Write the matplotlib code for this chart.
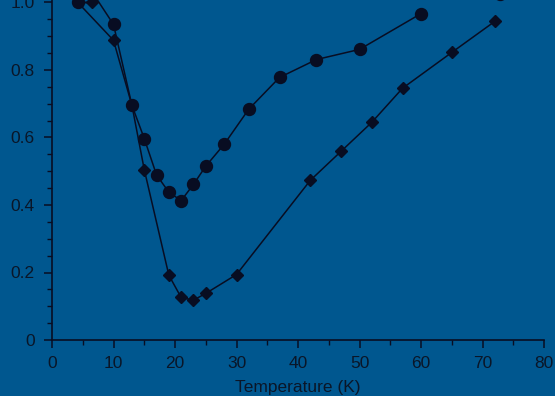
import matplotlib
matplotlib.use("Agg")
import matplotlib.pyplot as plt
from matplotlib.ticker import MultipleLocator

# circle series (point at 6.5 and 7.4 carry no marker)
t_circ = [4.2, 6.5, 7.4, 10.0, 13.0, 15.0, 17.0, 19.0, 21.0, 23.0, 25.0, 28.0, 32.0, 37.0, 43.0, 50.0, 60.0]
r_circ = [1.0, 1.0, 1.007, 0.935, 0.695, 0.597, 0.489, 0.438, 0.413, 0.461, 0.515, 0.58, 0.684, 0.778, 0.831, 0.861, 0.967]

# diamond series
t_diam = [6.5, 4.2, 10.0, 13.0, 15.0, 19.0, 21.0, 23.0, 25.0, 30.0, 42.0, 47.0, 52.0, 57.0, 65.0, 72.0]
r_diam = [1.0, 1.0, 0.888, 0.695, 0.505, 0.192, 0.126, 0.118, 0.138, 0.194, 0.473, 0.559, 0.645, 0.746, 0.852, 0.944]

# stray marker at the top right edge
t_extra = [72.8]
r_extra = [1.024]

bg = '#00578f'
ink = '#080d22'
txt = '#0a1628'

plt.rcParams['font.family'] = ['Liberation Sans', 'DejaVu Sans']

fig = plt.figure(figsize=(5.55, 3.96), dpi=100, facecolor=bg)
ax = fig.add_axes([52/555, 1-340/396, (544-52)/555, 340/396])
ax.set_facecolor(bg)

ax.plot(t_diam, r_diam, color=ink, lw=1.1, marker='D', ms=6.3, mfc=ink, mec=ink)
mk = [i for i in range(len(t_circ)) if i not in (1, 2)]
ax.plot(t_circ, r_circ, color=ink, lw=1.1, marker='o', ms=8.6, mfc=ink, mec=ink, markevery=mk)
ax.plot(t_extra, r_extra, ls='none', marker='o', ms=8.6, color=ink)

ax.set_xlim(0, 80)
ax.set_ylim(0, 340/337.5)
ax.xaxis.set_major_locator(MultipleLocator(10))
ax.xaxis.set_minor_locator(MultipleLocator(5))
ax.yaxis.set_minor_locator(MultipleLocator(0.05))
ax.set_yticks([0, 0.2, 0.4, 0.6, 0.8, 1.0])
ax.set_yticklabels(['0', '0.2', '0.4', '0.6', '0.8', '1.0'])

for s in ['top', 'right']:
    ax.spines[s].set_visible(False)
for s in ['left', 'bottom']:
    ax.spines[s].set_color(ink)
    ax.spines[s].set_linewidth(1.2)

ax.tick_params(axis='both', which='major', direction='out', length=5.5, width=1.1,
               color=ink, labelcolor=txt, labelsize=12.5)
ax.tick_params(axis='x', which='major', pad=6)
ax.tick_params(axis='y', which='major', pad=7)
ax.tick_params(axis='both', which='minor', direction='out', length=3.5, width=1.0, color=ink)
ax.set_xlabel('Temperature (K)', color=txt, fontsize=12.5, labelpad=6.5)

fig.savefig('out.png', dpi=100, facecolor=bg)
